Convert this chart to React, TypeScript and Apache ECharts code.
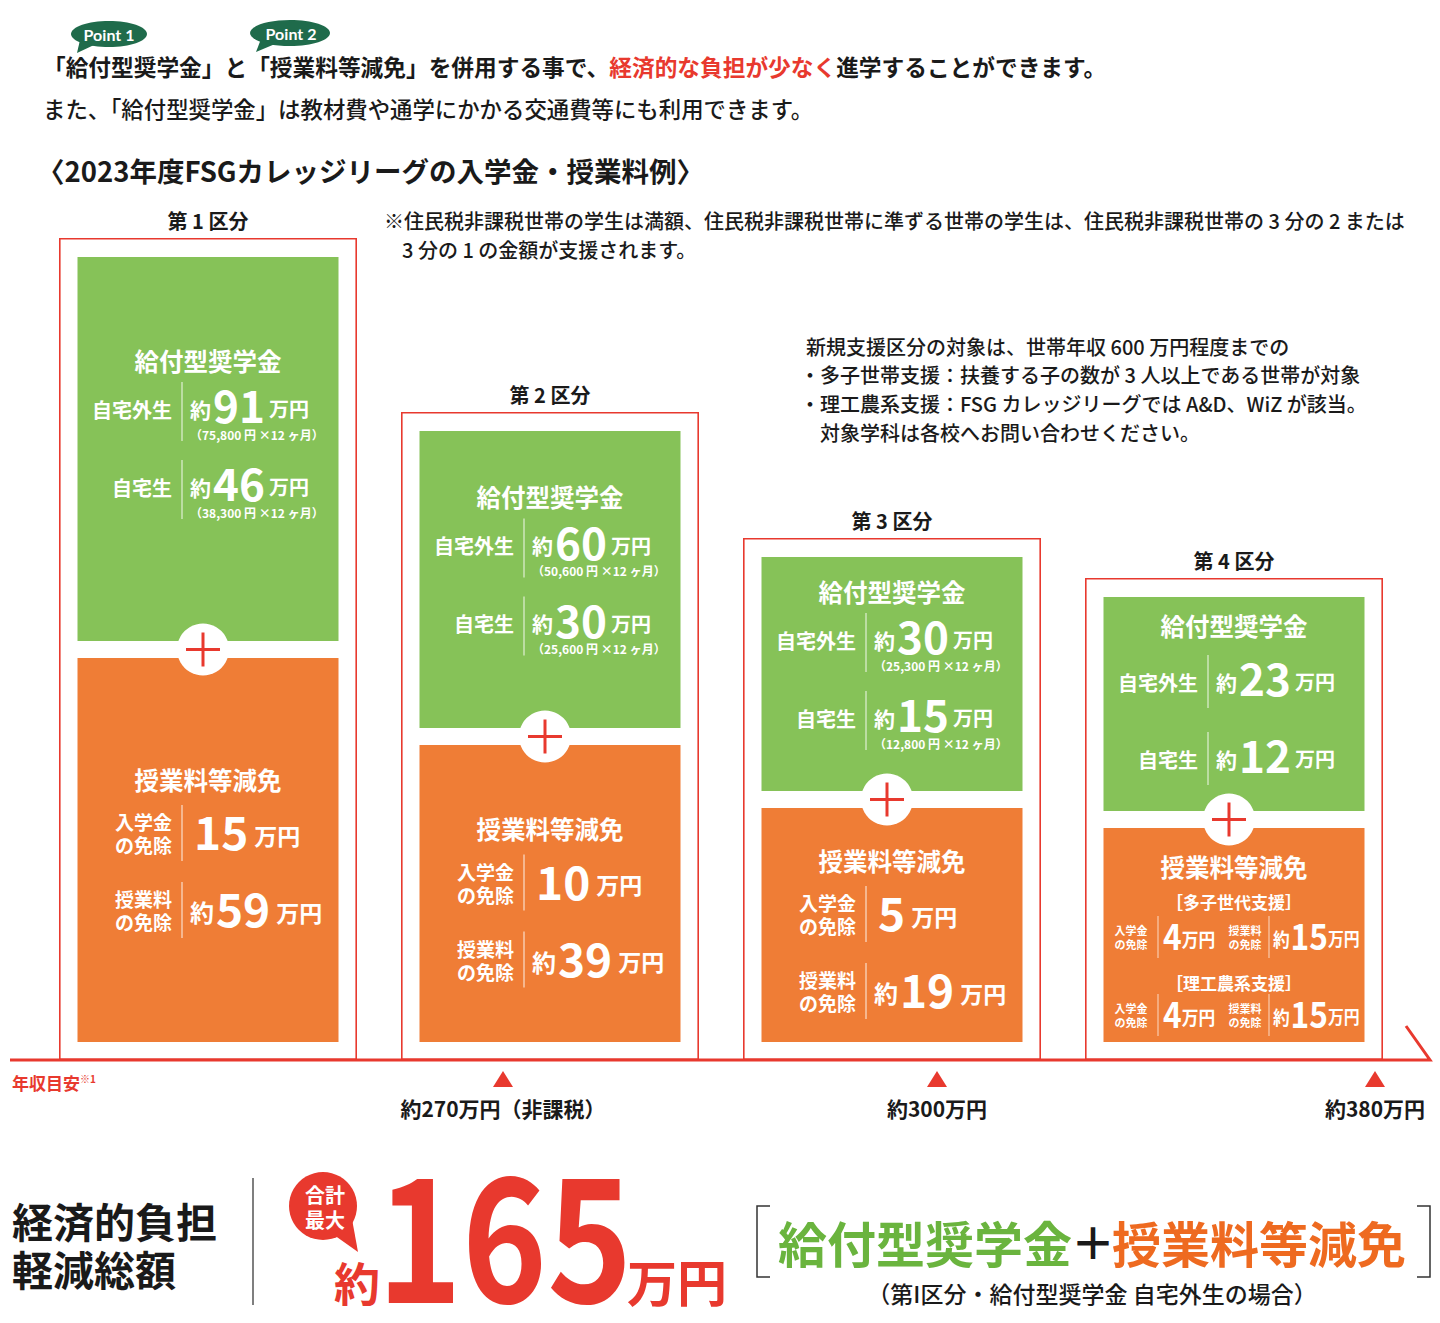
import React, { useEffect, useRef } from 'react';
import * as echarts from 'echarts';

// ---------- data ----------
const categories = ['第 1 区分', '第 2 区分', '第 3 区分', '第 4 区分'];
// heights of the drawn blocks (value-axis units)
const frameHeight = [822, 648, 522, 482];
const scholarshipBlock = [384, 297, 234, 214];
const tuitionBlock = [384, 297, 234, 214];
const blockBase = [18, 18, 18, 18];
const blockGap = [17, 17, 17, 17];

const awayAmount = [91, 60, 30, 23];
const homeAmount = [46, 30, 15, 12];
const awayMonthly = ['75,800', '50,600', '25,300', ''];
const homeMonthly = ['38,300', '25,600', '12,800', ''];
const admissionExempt = [15, 10, 5, 4];
const tuitionExempt = [59, 39, 19, 15];
const extraSupports = ['［多子世代支援］', '［理工農系支援］'];
const incomeLabels = ['約270万円（非課税）', '約300万円', '約380万円'];
const totalMax = 165;

// ---------- layout / style ----------
const incomeMarkerX = [503, 937, 1375];
const contentShift = [-6, 0, 0, 0];
const FONT = "'Noto Sans CJK JP', 'Noto Sans', sans-serif";
const RED = '#e8392e';
const GREEN = '#86c258';
const ORANGE = '#ef7d36';
const BLACK = '#1a1a1a';
const W = '#ffffff';

function t(x: number, y: number, text: string, fs: number, o: any = {}) {
  const style: any = {
    text,
    fontSize: fs,
    fontFamily: o.f ?? FONT,
    fontWeight: o.w ?? 'bold',
    fill: o.c ?? BLACK,
    align: o.a ?? 'left',
    verticalAlign: o.v ?? 'middle',
  };
  if (o.lh) style.lineHeight = o.lh;
  if (o.rich) style.rich = o.rich;
  return { type: 'text', x, y, z: 20, silent: true, scaleX: o.scaleX ?? 1, scaleY: o.scaleY ?? 1, style };
}

function ln(x1: number, y1: number, x2: number, y2: number, stroke: string, w: number) {
  return { type: 'line', z: 20, silent: true, shape: { x1, y1, x2, y2 }, style: { stroke, lineWidth: w } };
}

// "約 91 万円" : small glyphs sit a little lower than the centre of the big digits
function valueText(x: number, y: number, pre: string, num: number, fsNum: number, fsSmall: number, padC = 4, scaleX = 1, padA = 2) {
  const drop = Math.round(fsNum * 0.2);
  const tok = (fs: number, extra: any = {}) => ({
    fontSize: fs, fontWeight: 'bold', fontFamily: FONT, fill: W, verticalAlign: 'middle', ...extra,
  });
  const rich = {
    a: tok(fsSmall + 1, { padding: [drop, padA, 0, 0] }),
    b: tok(fsNum),
    c: tok(fsSmall, { padding: [drop, 0, 0, padC] }),
  };
  const text = (pre ? '{a|' + pre + '}' : '') + '{b|' + num + '}{c|万円}';
  return t(x, y - Math.round(fsNum * 0.06), text, fsNum, { c: W, rich, scaleX });
}

export default function App() {
  const ref = useRef<HTMLDivElement>(null);

  useEffect(() => {
    document.body.style.margin = '0';
    const chart = echarts.init(ref.current!, undefined, { renderer: 'svg' });
    const transparent = { color: 'rgba(0,0,0,0)' };
    chart.setOption({
      animation: false,
      grid: { left: 37, right: 35, top: 100, bottom: 263 },
      xAxis: [
        { type: 'category', data: categories, show: false, gridIndex: 0 },
        { type: 'category', data: categories, show: false, gridIndex: 0 },
      ],
      yAxis: { type: 'value', min: 0, max: 960, show: false },
      series: [
        {
          name: 'frame', type: 'bar', xAxisIndex: 1, barWidth: 298, data: frameHeight, silent: true, z: 1,
          itemStyle: { color: 'rgba(0,0,0,0)', borderColor: RED, borderWidth: 1.6 },
          label: { show: true, position: 'top', distance: 8, formatter: '{b}', fontSize: 20, fontWeight: 'bold', color: BLACK, fontFamily: FONT },
        },
        { name: 'base', type: 'bar', stack: 's', barWidth: 261, data: blockBase, itemStyle: transparent, silent: true },
        { name: '授業料等減免', type: 'bar', stack: 's', barWidth: 261, data: tuitionBlock, itemStyle: { color: ORANGE }, silent: true },
        { name: 'gap', type: 'bar', stack: 's', barWidth: 261, data: blockGap, itemStyle: transparent, silent: true },
        { name: '給付型奨学金', type: 'bar', stack: 's', barWidth: 261, data: scholarshipBlock, itemStyle: { color: GREEN }, silent: true },
      ],
    });

    const px = (i: number, v: number) => chart.convertToPixel({ seriesIndex: 1 }, [i, v]) as number[];
    const g: any[] = [];

    // header
    g.push({ type: 'ellipse', z: 20, silent: true, shape: { cx: 109, cy: 34, rx: 38, ry: 13 }, style: { fill: '#1f6b4b' } });
    g.push({ type: 'polygon', z: 20, silent: true, shape: { points: [[80, 40], [94, 45], [77, 53]] }, style: { fill: '#1f6b4b' } });
    g.push(t(109, 34, 'Point 1', 16, { c: W, a: 'center', f: 'Lato, sans-serif' }));
    g.push({ type: 'ellipse', z: 20, silent: true, shape: { cx: 290, cy: 33, rx: 40, ry: 13 }, style: { fill: '#1f6b4b' } });
    g.push({ type: 'polygon', z: 20, silent: true, shape: { points: [[261, 39], [275, 44], [256, 52]] }, style: { fill: '#1f6b4b' } });
    g.push(t(291, 33, 'Point 2', 16, { c: W, a: 'center', f: 'Lato, sans-serif' }));

    g.push(t(43, 66, '{k|「給付型奨学金」と「授業料等減免」を併用する事で、}{r|経済的な負担が少なく}{k|進学することができます。}', 22.7, {
      rich: {
        k: { fontSize: 22.7, fontWeight: 'bold', fontFamily: FONT, fill: BLACK },
        r: { fontSize: 22.7, fontWeight: 'bold', fontFamily: FONT, fill: RED },
      },
    }));
    g.push(t(43, 108, 'また、「給付型奨学金」は教材費や通学にかかる交通費等にも利用できます。', 22.4, { w: 500 }));
    g.push(t(37, 170, '〈2023年度FSGカレッジリーグの入学金・授業料例〉', 27.5));
    g.push(t(384, 220, '※住民税非課税世帯の学生は満額、住民税非課税世帯に準ずる世帯の学生は、住民税非課税世帯の 3 分の 2 または', 20, { w: 500 }));
    g.push(t(402, 249, '3 分の 1 の金額が支援されます。', 20, { w: 500 }));
    const notes = [
      ['新規支援区分の対象は、世帯年収 600 万円程度までの', 806],
      ['・多子世帯支援：扶養する子の数が 3 人以上である世帯が対象', 800],
      ['・理工農系支援：FSG カレッジリーグでは A&D、WiZ が該当。', 800],
      ['対象学科は各校へお問い合わせください。', 820],
    ];
    notes.forEach((n, k) => g.push(t(n[1] as number, 346 + k * 28.7, n[0] as string, 20, { w: 500 })));

    // per-bar contents
    categories.forEach((_, i) => {
      const cx = px(i, 0)[0];
      const oBot = px(i, blockBase[i])[1];
      const oTop = px(i, blockBase[i] + tuitionBlock[i])[1];
      const gBot = px(i, blockBase[i] + tuitionBlock[i] + blockGap[i])[1];
      const gTop = px(i, blockBase[i] + tuitionBlock[i] + blockGap[i] + scholarshipBlock[i])[1];
      const gcy = (gTop + gBot) / 2;
      const ocy = (oTop + oBot) / 2;
      const s = contentShift[i];
      const last = i === 3;

      // green block
      g.push(t(cx, gcy + (last ? -79 : -83) + s, '給付型奨学金', 24.5, { c: W, a: 'center' }));
      const grow = (y: number, label: string, amt: number, monthly: string) => {
        g.push(t(cx - 36, y + 2, label, 20, { c: W, a: 'right' }));
        g.push(ln(cx - 26, y - 25, cx - 26, y + (monthly ? 34 : 28), 'rgba(255,255,255,0.6)', 1.5));
        g.push(valueText(cx - 18, y, '約', amt, 44, 20));
        if (monthly) g.push(t(cx - 18, y + 27, `（${monthly} 円 ×12 ヶ月）`, 12, { c: W }));
      };
      if (last) {
        grow(gcy - 24, '自宅外生', awayAmount[i], '');
        grow(gcy + 53, '自宅生', homeAmount[i], '');
      } else {
        grow(gcy - 36 + s, '自宅外生', awayAmount[i], awayMonthly[i]);
        grow(gcy + 42 + s, '自宅生', homeAmount[i], homeMonthly[i]);
      }

      // orange block
      if (!last) {
        g.push(t(cx, ocy - 65 + s, '授業料等減免', 24.5, { c: W, a: 'center' }));
        const orow = (y: number, label: string, pre: string, amt: number) => {
          g.push(t(cx - 36, y, label, 19, { c: W, a: 'right', lh: 23 }));
          g.push(ln(cx - 26, y - 28, cx - 26, y + 28, 'rgba(255,255,255,0.6)', 1.5));
          g.push(valueText(pre ? cx - 18 : cx - 14, y, pre, amt, 46, 23, 6));
        };
        orow(ocy - 11 + s, '入学金\nの免除', '', admissionExempt[i]);
        orow(ocy + 66 + s, '授業料\nの免除', '約', tuitionExempt[i]);
      } else {
        g.push(t(cx, ocy - 69, '授業料等減免', 24.5, { c: W, a: 'center' }));
        extraSupports.forEach((sup, k) => {
          const hy = ocy - 34 + k * 81;
          const y = ocy + 2 + k * 78;
          g.push(t(cx, hy, sup, 17, { c: W, a: 'center' }));
          g.push(t(cx - 103, y, '入学金\nの免除', 11, { c: W, a: 'center', lh: 13.5 }));
          g.push(ln(cx - 76, y - 21, cx - 76, y + 21, 'rgba(255,255,255,0.6)', 1.2));
          g.push(valueText(cx - 71, y, '', admissionExempt[i], 36, 19, 0, 0.88, 0));
          g.push(t(cx + 11, y, '授業料\nの免除', 11, { c: W, a: 'center', lh: 13.5 }));
          g.push(ln(cx + 35, y - 21, cx + 35, y + 21, 'rgba(255,255,255,0.6)', 1.2));
          g.push(valueText(cx + 39, y, '約', tuitionExempt[i], 36, 18, 0, 0.88, 1));
        });
      }

      // plus
      const py = (oTop + gBot) / 2;
      const pcx = cx - 5;
      g.push({ type: 'circle', z: 20, silent: true, shape: { cx: pcx, cy: py, r: 26 }, style: { fill: W } });
      g.push(ln(pcx - 17, py, pcx + 17, py, RED, 3));
      g.push(ln(pcx, py - 17, pcx, py + 17, RED, 3));
    });

    // axis
    const axisY = px(0, 0)[1];
    g.push({ type: 'polyline', z: 20, silent: true, shape: { points: [[10, axisY], [1430, axisY], [1406, axisY - 34]] }, style: { stroke: RED, lineWidth: 3, fill: null } });
    g.push(t(12, axisY + 22, '{a|年収目安}{b|※1}', 17, {
      rich: {
        a: { fontSize: 17, fontWeight: 'bold', fontFamily: FONT, fill: RED },
        b: { fontSize: 10, fontWeight: 'bold', fontFamily: FONT, fill: RED, verticalAlign: 'top' },
      },
    }));
    incomeLabels.forEach((lab, k) => {
      const x = incomeMarkerX[k];
      g.push({ type: 'polygon', z: 20, silent: true, shape: { points: [[x - 10, axisY + 27], [x + 10, axisY + 27], [x, axisY + 11]] }, style: { fill: RED } });
      g.push(t(x, axisY + 48, lab, 21, { a: 'center' }));
    });

    // bottom summary
    g.push(t(12, 1220, '経済的負担', 41));
    g.push(t(12, 1268, '軽減総額', 41));
    g.push(ln(253, 1178, 253, 1305, '#555', 1.5));
    g.push({ type: 'circle', z: 20, silent: true, shape: { cx: 323, cy: 1206, r: 34 }, style: { fill: RED } });
    g.push({ type: 'polygon', z: 20, silent: true, shape: { points: [[334, 1235], [352, 1219], [358, 1252]] }, style: { fill: RED } });
    g.push(t(325, 1194, '合計', 20, { c: W, a: 'center' }));
    g.push(t(325, 1219, '最大', 20, { c: W, a: 'center' }));
    g.push(t(334, 1281, '約', 46, { c: RED }));
    g.push(t(377, 1228, String(totalMax), 140, { c: RED, scaleX: 1.03, scaleY: 1.23 }));
    g.push(t(627, 1280, '万円', 50, { c: RED }));

    g.push({ type: 'polyline', z: 20, silent: true, shape: { points: [[770, 1206], [757, 1206], [757, 1277], [770, 1277]] }, style: { stroke: '#333', lineWidth: 1.5, fill: null } });
    g.push({ type: 'polyline', z: 20, silent: true, shape: { points: [[1417, 1206], [1430, 1206], [1430, 1277], [1417, 1277]] }, style: { stroke: '#333', lineWidth: 1.5, fill: null } });
    g.push(t(778, 1241, '給付型奨学金', 49, { c: '#6ab43e' }));
    g.push(t(1071, 1241, '＋', 44, { c: BLACK }));
    g.push(t(1112, 1241, '授業料等減免', 49, { c: '#ee6a20' }));
    g.push(t(1092, 1293, '（第I区分・給付型奨学金 自宅外生の場合）', 23, { a: 'center', w: 500 }));

    chart.setOption({ graphic: g });

    return () => chart.dispose();
  }, []);

  return <div ref={ref} style={{ width: 1440, height: 1323 }} />;
}
